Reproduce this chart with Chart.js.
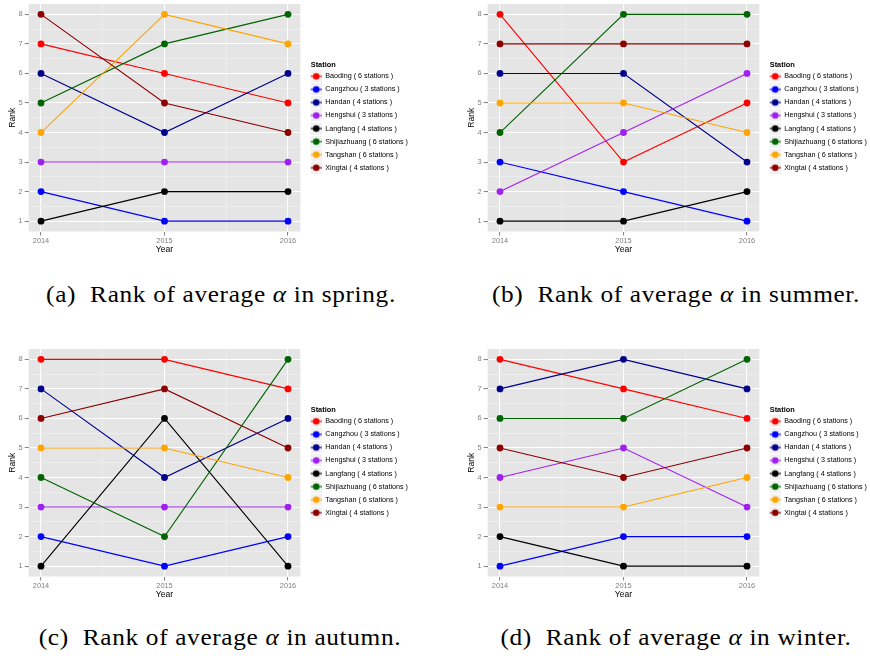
<!DOCTYPE html>
<html>
<head>
<meta charset="utf-8">
<script src="https://cdn.jsdelivr.net/npm/chart.js@4/dist/chart.umd.min.js"></script>
<style>
html,body{margin:0;padding:0;background:#fff;}
body{width:870px;height:656px;position:relative;overflow:hidden;}
canvas.panel{position:absolute;}
.cap{position:absolute;width:440px;text-align:center;font-family:'Liberation Serif',serif;font-size:23px;line-height:24px;letter-spacing:0.6px;color:#000;white-space:nowrap;transform:scaleX(1.1);transform-origin:center;}
</style>
</head>
<body>
<canvas class="panel" id="c0" width="411" height="256" style="left:0px;top:0px"></canvas>
<canvas class="panel" id="c1" width="411" height="256" style="left:459px;top:0px"></canvas>
<canvas class="panel" id="c2" width="411" height="256" style="left:0px;top:345px"></canvas>
<canvas class="panel" id="c3" width="411" height="256" style="left:459px;top:345px"></canvas>
<div class="cap" id="t0" style="left:1px;top:283px"></div>
<div class="cap" id="t1" style="left:456px;top:283px"></div>
<div class="cap" id="t2" style="left:0px;top:626px"></div>
<div class="cap" id="t3" style="left:456px;top:626px"></div>
<script>
// ---------- data ----------
const years = [2014, 2015, 2016];
const rankTicks = [1, 2, 3, 4, 5, 6, 7, 8];
const stations = ['Baoding', 'Cangzhou', 'Handan', 'Hengshui', 'Langfang', 'Shijiazhuang', 'Tangshan', 'Xingtai'];
const stationCounts = [6, 3, 4, 3, 4, 6, 6, 4];
const stationColors = ['#FF0000', '#0000FF', '#00008B', '#A020F0', '#000000', '#006400', '#FFA500', '#8B0000'];
// ranks per station (same order as stations), values for 2014, 2015, 2016
const springRanks = [[7,6,5],[2,1,1],[6,4,6],[3,3,3],[1,2,2],[5,7,8],[4,8,7],[8,5,4]];
const summerRanks = [[8,3,5],[3,2,1],[6,6,3],[2,4,6],[1,1,2],[4,8,8],[5,5,4],[7,7,7]];
const autumnRanks = [[8,8,7],[2,1,2],[7,4,6],[3,3,3],[1,6,1],[4,2,8],[5,5,4],[6,7,5]];
const winterRanks = [[8,7,6],[1,2,2],[7,8,7],[4,5,3],[2,1,1],[6,6,8],[3,3,4],[5,4,5]];
const seasons = ['spring', 'summer', 'autumn', 'winter'];
const panelLetters = ['(a)', '(b)', '(c)', '(d)'];
const seasonRanks = [springRanks, summerRanks, autumnRanks, winterRanks];

// ---------- styling ----------
const SANS = "'Liberation Sans', Arial, Helvetica, sans-serif";
Chart.defaults.font.family = SANS;
const TICK_GREY = '#808080';

function minorBetween(ticks) {
  const out = [];
  ticks.forEach((v, i) => { out.push(v); if (i < ticks.length - 1) out.push((v + ticks[i + 1]) / 2); });
  return out;
}
const xTickValues = minorBetween(years);
const yTickValues = minorBetween(rankTicks);
const xSpan = years[years.length - 1] - years[0];
const ySpan = rankTicks[rankTicks.length - 1] - rankTicks[0];

function keyImage(color) {
  const c = document.createElement('canvas');
  c.width = 12; c.height = 12;
  const g = c.getContext('2d');
  g.fillStyle = '#F2F2F2'; g.fillRect(0, 0, 12, 12);
  g.strokeStyle = color; g.lineWidth = 1.1;
  g.beginPath(); g.moveTo(0, 6); g.lineTo(12, 6); g.stroke();
  g.fillStyle = color; g.beginPath(); g.arc(6, 6, 3.3, 0, Math.PI * 2); g.fill();
  return c;
}
const keyImages = stationColors.map(keyImage);

const isMajor = v => Math.abs(v - Math.round(v)) < 1e-9;
const gridOpts = {
  color: ctx => isMajor(ctx.tick.value) ? '#FFFFFF' : '#F2F2F2',
  lineWidth: ctx => isMajor(ctx.tick.value) ? 1.1 : 0.6,
  tickColor: ctx => isMajor(ctx.tick.value) ? TICK_GREY : 'rgba(0,0,0,0)',
  tickLength: 4,
  tickWidth: 1,
  drawTicks: true
};

const panelBg = {
  id: 'panelBg',
  beforeDraw(chart) {
    const { ctx, chartArea: a } = chart;
    ctx.save();
    ctx.fillStyle = '#E5E5E5';
    ctx.fillRect(a.left, a.top, a.right - a.left, a.bottom - a.top);
    ctx.restore();
  }
};
const LEGEND_W = 100;
const LEGEND_SHIFT = 10.35;
const legendFix = {
  id: 'legendFix',
  afterInit(chart) {
    const lg = chart.legend;
    const orig = lg.fit.bind(lg);
    lg.fit = function () { orig(); this.width = LEGEND_W; };
  },
  afterLayout(chart) {
    chart.legend.left += LEGEND_SHIFT;
    chart.legend.right += LEGEND_SHIFT;
  }
};

function makeChart(canvasId, ranks) {
  const datasets = [];
  for (let i = stations.length - 1; i >= 0; i--) {
    const pts = years.map((yr, j) => ({ x: yr, y: ranks[i][j] }));
    datasets.push({
      label: stations[i] + ' line', data: pts, borderColor: stationColors[i], borderWidth: 1.1,
      pointRadius: 0, fill: false, tension: 0, order: 2
    });
    datasets.push({
      label: stations[i], data: pts, showLine: false, pointRadius: 3.4,
      pointBackgroundColor: stationColors[i], pointBorderWidth: 0, order: 1
    });
  }
  return new Chart(document.getElementById(canvasId), {
    type: 'line',
    data: { datasets },
    plugins: [panelBg, legendFix],
    options: {
      responsive: false,
      animation: false,
      events: [],
      devicePixelRatio: 1,
      layout: { padding: { left: 0, top: 1.5, right: 411 - 300.35 - LEGEND_W, bottom: 0 } },
      scales: {
        x: {
          type: 'linear',
          min: years[0] - 0.05 * xSpan,
          max: years[years.length - 1] + 0.05 * xSpan,
          afterBuildTicks: s => { s.ticks = xTickValues.map(v => ({ value: v })); },
          afterFit: s => { s.height = 24.5; s.paddingLeft = 0; s.paddingRight = 0; s.paddingTop = 0; },
          ticks: {
            callback: v => isMajor(v) ? String(Math.round(v)) : '',
            color: TICK_GREY, font: { size: 7.4 }, padding: 1.5, maxRotation: 0, autoSkip: false
          },
          grid: gridOpts,
          border: { display: false },
          title: { display: true, text: 'Year', color: '#000', font: { size: 8.6 }, padding: { top: 0, bottom: 1.6 } }
        },
        y: {
          type: 'linear',
          min: rankTicks[0] - 0.05 * ySpan,
          max: rankTicks[rankTicks.length - 1] + 0.05 * ySpan,
          afterBuildTicks: s => { s.ticks = yTickValues.map(v => ({ value: v })); },
          afterFit: s => { s.width = 28.65; s.paddingTop = 0; s.paddingBottom = 0; },
          ticks: {
            callback: v => isMajor(v) ? String(Math.round(v)) : '',
            color: TICK_GREY, font: { size: 7.4 }, padding: 2, autoSkip: false
          },
          grid: gridOpts,
          border: { display: false },
          title: { display: true, text: 'Rank', color: '#000', font: { size: 8.6 }, padding: { top: 7, bottom: 0 } }
        }
      },
      plugins: {
        tooltip: { enabled: false },
        legend: {
          position: 'right', align: 'center', fullSize: false,
          title: {
            display: true, text: 'Station', position: 'start', color: '#000',
            font: { size: 7.4, weight: 'bold', lineHeight: 1.2 }, padding: { top: 3.0, bottom: 2.5 }
          },
          labels: {
            usePointStyle: true, pointStyleWidth: 11, padding: 0, color: '#000',
            font: { size: 7.2, lineHeight: 13.05 / 7.2 },
            generateLabels: () => stations.map((s, i) => ({
              text: [s + ' ( ' + stationCounts[i] + ' stations )'],
              pointStyle: keyImages[i], fillStyle: stationColors[i], strokeStyle: stationColors[i],
              lineWidth: 0, hidden: false, fontColor: '#000'
            }))
          }
        }
      }
    }
  });
}

seasonRanks.forEach((r, k) => {
  makeChart('c' + k, r);
  document.getElementById('t' + k).innerHTML = panelLetters[k] + '&nbsp; Rank of average <i>α</i> in ' + seasons[k] + '.';
});
</script>
</body>
</html>
